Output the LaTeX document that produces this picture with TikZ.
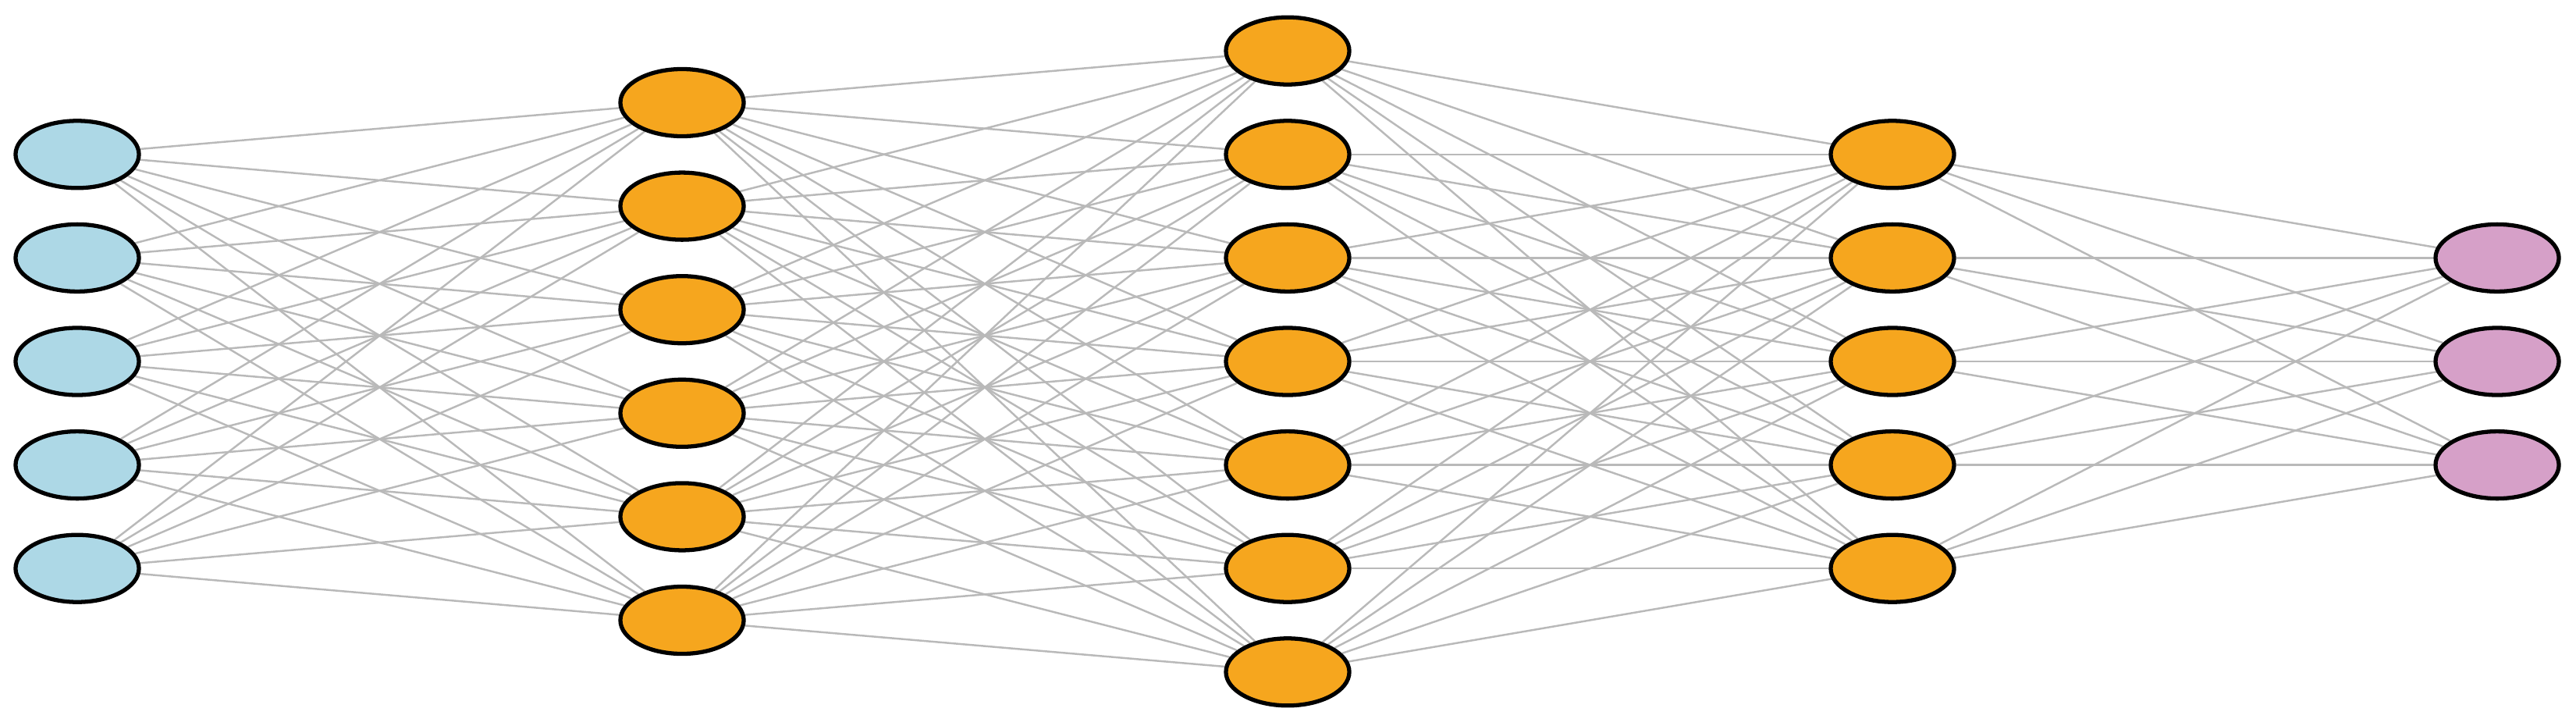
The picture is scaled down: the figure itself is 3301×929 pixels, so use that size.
\documentclass[tikz,border=0pt]{standalone}
\usetikzlibrary{shapes.geometric,backgrounds}
\definecolor{inblue}{RGB}{173,216,230}
\definecolor{hidor}{RGB}{246,166,30}
\definecolor{outpk}{RGB}{214,160,200}
\tikzset{
 neuron/.style={ellipse,draw=black,line width=1.5pt,minimum width=1.58cm,minimum height=0.86cm,inner sep=0pt},
 conn/.style={draw=gray!55,line width=0.7pt}
}
\begin{document}
\begin{tikzpicture}[x=0.01cm,y=0.01cm]
\useasboundingbox (0,0) rectangle (3301,929);
\def\cy{466}
\def\sp{132.6}
\foreach \i in {1,...,5} \node[neuron,fill=inblue] (a\i) at (99,{\cy+(3-\i)*\sp}) {};
\foreach \i in {1,...,6} \node[neuron,fill=hidor] (b\i) at (874,{\cy+(3.5-\i)*\sp}) {};
\foreach \i in {1,...,7} \node[neuron,fill=hidor] (c\i) at (1650,{\cy+(4-\i)*\sp}) {};
\foreach \i in {1,...,5} \node[neuron,fill=hidor] (d\i) at (2425,{\cy+(3-\i)*\sp}) {};
\foreach \i in {1,...,3} \node[neuron,fill=outpk] (e\i) at (3200,{\cy+(2-\i)*\sp}) {};
\begin{scope}[on background layer]
\foreach \i in {1,...,5} \foreach \j in {1,...,6} \draw[conn] (a\i) -- (b\j);
\foreach \i in {1,...,6} \foreach \j in {1,...,7} \draw[conn] (b\i) -- (c\j);
\foreach \i in {1,...,7} \foreach \j in {1,...,5} \draw[conn] (c\i) -- (d\j);
\foreach \i in {1,...,5} \foreach \j in {1,...,3} \draw[conn] (d\i) -- (e\j);
\end{scope}
\end{tikzpicture}
\end{document}
